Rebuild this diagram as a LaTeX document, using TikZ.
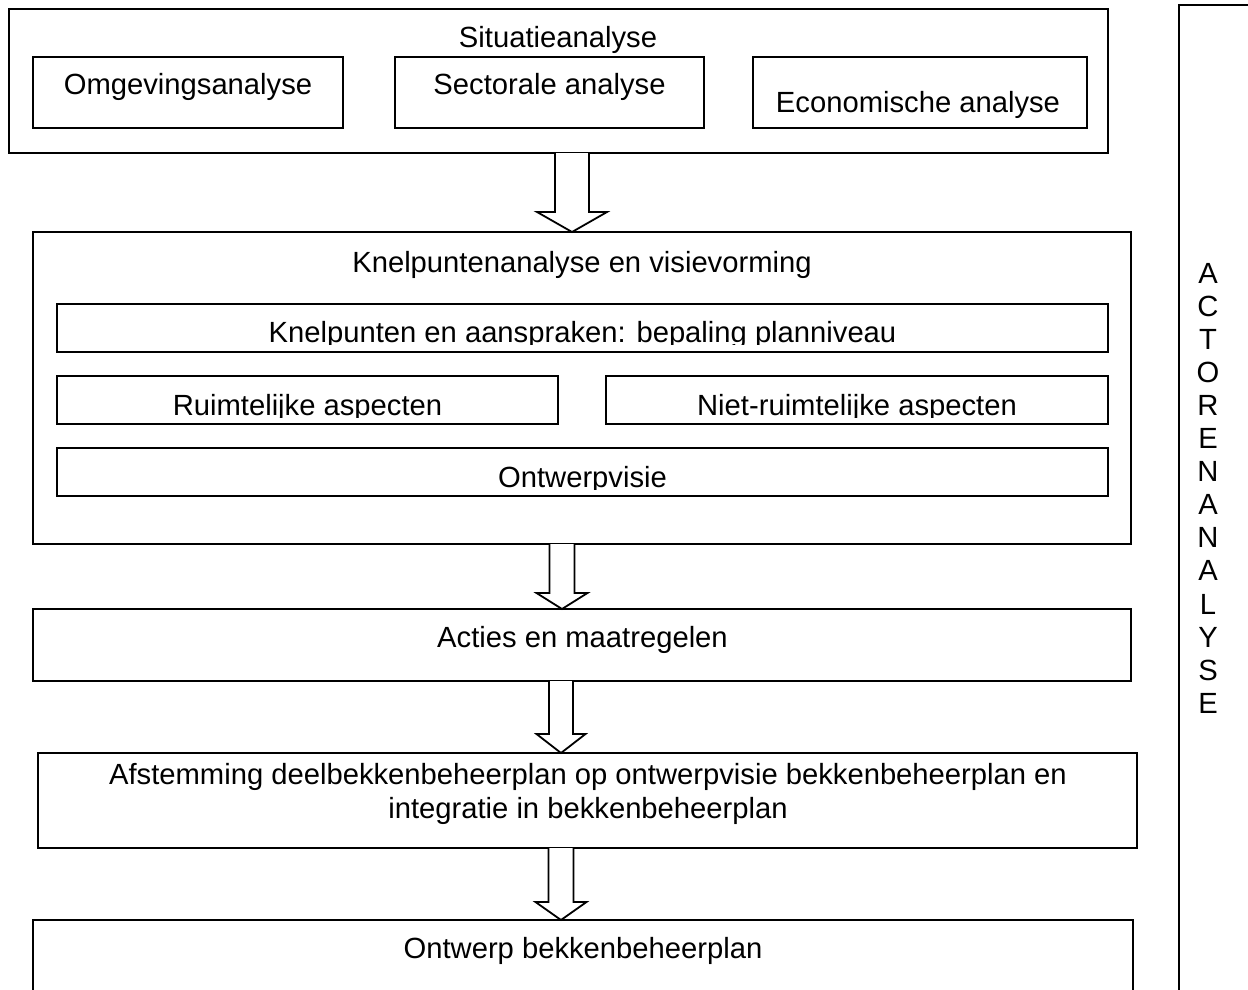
\documentclass[tikz,border=0pt]{standalone}
\usepackage{fontspec}
\setmainfont{Liberation Sans}
\usetikzlibrary{calc}

% framed box: name, left, top, width, height
\newcommand\panel[5]{\node[panel, minimum width=#4pt, minimum height=#5pt] (#1) at (#2,#3) {};}
% hollow block arrow: from node, to node, axis x, shaft half width, head half width, head length
\newcommand\blockarrow[6]{%
  \draw[arrowline] let \p1=(#1.south), \p2=(#2.north) in
    (#3pt-#4pt,\y1) -- (#3pt-#4pt,\y2+#6pt) -- (#3pt-#5pt,\y2+#6pt) -- (#3pt,\y2)
    -- (#3pt+#5pt,\y2+#6pt) -- (#3pt+#4pt,\y2+#6pt) -- (#3pt+#4pt,\y1);}

\tikzset{
  panel/.style={draw, line width=1.8pt, inner sep=0pt, outer sep=0pt, anchor=north west},
  arrowline/.style={draw, line width=1.8pt, fill=white},
  txt/.style={font=\fontsize{29.2}{33.5}\selectfont, inner sep=0pt, anchor=base},
}

\begin{document}
\begin{tikzpicture}[x=1pt, y=-1pt]
\clip (0,0) rectangle (1248,990);
\fill[white] (0,0) rectangle (1248,990);

% situation analysis
\panel{sit}{9}{9}{1099}{144}
\panel{omg}{33}{57}{310}{71}
\panel{sec}{395}{57}{309}{71}
\panel{eco}{753}{57}{334}{71}
\node[txt] (sitT) at (558,48) {Situatieanalyse};
\node[txt] (omgT) at (188,95) {Omgevingsanalyse};
\node[txt] (secT) at (549.5,95) {Sectorale analyse};
\node[txt] (ecoT) at (918,112) {Economische analyse};

% bottlenecks and vision
\panel{kvis}{33}{232}{1098}{312}
\node[txt] (kvisT) at (582,272) {Knelpuntenanalyse en visievorming};
\panel{kne}{57}{304}{1051}{48}
\panel{ruim}{57}{376}{501}{48}
\panel{niet}{606}{376}{502}{48}
\panel{ontv}{57}{448}{1051}{48}
\begin{scope}
  \clip (57,304) rectangle (1108,344.5);
  \node[txt] (kneT) at (582.5,342) {Knelpunten en aanspraken: bepaling planniveau};
\end{scope}
\begin{scope}
  \clip (57,376) rectangle (558,417);
  \node[txt] (ruimT) at (307.5,415) {Ruimtelijke aspecten};
\end{scope}
\begin{scope}
  \clip (606,376) rectangle (1108,417);
  \node[txt] (nietT) at (857,415) {Niet-ruimtelijke aspecten};
\end{scope}
\begin{scope}
  \clip (57,448) rectangle (1108,489);
  \node[txt] (ontvT) at (582.5,487) {Ontwerpvisie};
\end{scope}

% actions
\panel{act}{33}{609}{1098}{72}
\node[txt] (actT) at (582.5,647) {Acties en maatregelen};

% alignment
\panel{afst}{38}{753}{1099}{95}
\node[txt] (afstA) at (588,784) {Afstemming deelbekkenbeheerplan op ontwerpvisie bekkenbeheerplan en};
\node[txt] (afstB) at (588,818) {integratie in bekkenbeheerplan};

% draft plan
\panel{ontw}{33}{920}{1100}{100}
\node[txt] (ontwT) at (583,958) {Ontwerp bekkenbeheerplan};

% actor analysis column
\panel{actor}{1179}{5}{100}{1010}
\foreach \l [count=\i] in {A,C,T,O,R,E,N,A,N,A,L,Y,S,E}
  \node[txt] (actor\i) at (1208,{283+33.1*(\i-1)}) {\l};

% flow arrows
\blockarrow{sit}{kvis}{572}{17}{35}{20}
\blockarrow{kvis}{act}{562}{12.5}{25.5}{16}
\blockarrow{act}{afst}{561}{12}{24.5}{19}
\blockarrow{afst}{ontw}{561}{12.5}{25.5}{18}
\end{tikzpicture}
\end{document}
